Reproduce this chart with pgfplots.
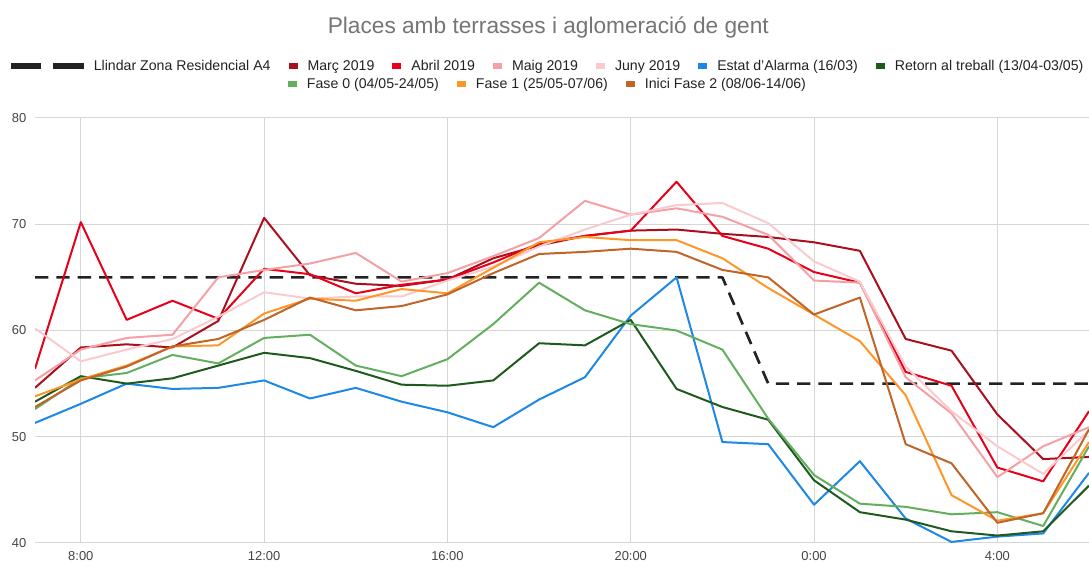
\documentclass[border=0pt]{standalone}
\usepackage{fontspec}
\setmainfont{Liberation Sans}
\usepackage{pgfplots}
\usepackage{pgfplotstable}
\pgfplotsset{compat=1.18}

\definecolor{llindar}{RGB}{34,34,34}
\definecolor{marc}{RGB}{170,15,30}
\definecolor{abril}{RGB}{230,0,25}
\definecolor{maig}{RGB}{244,160,164}
\definecolor{juny}{RGB}{250,202,207}
\definecolor{alarma}{RGB}{30,136,229}
\definecolor{retorn}{RGB}{30,90,30}
\definecolor{fasezero}{RGB}{100,175,95}
\definecolor{faseu}{RGB}{255,150,40}
\definecolor{fasedos}{RGB}{192,100,40}
\definecolor{titol}{RGB}{117,117,117}
\definecolor{etiq}{RGB}{68,68,68}
\definecolor{reixa}{RGB}{214,214,214}

% hores: 24 = 0:00, 28 = 4:00
\pgfplotstableread{
h  llindar marc abril maig juny alarma retorn fase0 fase1 fase2
7  65 54.6 56.4 55.3 60.2 51.3 53.3 52.6 53.8 52.8
8  65 58.4 70.2 58.2 57.1 53.1 55.7 55.5 55.4 55.3
9  65 58.7 61.0 59.3 58.2 55.0 55.0 56.0 56.7 56.6
10 65 58.4 62.8 59.6 59.2 54.5 55.5 57.7 58.5 58.5
11 65 60.9 61.1 65.0 61.3 54.6 56.7 56.9 58.6 59.2
12 65 70.6 65.8 65.7 63.6 55.3 57.9 59.3 61.6 61.0
13 65 65.2 65.3 66.3 63.0 53.6 57.4 59.6 63.0 63.1
14 65 64.4 63.5 67.3 63.2 54.6 56.2 56.7 62.8 61.9
15 65 64.2 64.3 64.6 63.2 53.3 54.9 55.7 63.9 62.3
16 65 64.8 64.8 65.4 64.7 52.3 54.8 57.3 63.5 63.4
17 65 66.8 66.4 67.0 66.0 50.9 55.3 60.6 65.9 65.4
18 65 68.0 68.2 68.7 67.9 53.5 58.8 64.5 68.3 67.2
19 65 68.9 68.9 72.2 69.5 55.6 58.6 61.9 68.8 67.4
20 65 69.4 69.4 70.9 70.9 61.4 61.0 60.6 68.5 67.7
21 65 69.5 74.0 71.5 71.8 65.0 54.5 60.0 68.5 67.4
22 65 69.1 68.9 70.7 72.0 49.5 52.8 58.2 66.8 65.7
23 55 68.8 67.7 69.0 70.1 49.3 51.6 51.7 64.0 65.0
24 55 68.3 65.5 64.7 66.5 43.6 45.9 46.4 61.5 61.5
25 55 67.5 64.5 64.5 64.6 47.7 42.9 43.7 59.0 63.1
26 55 59.2 56.1 55.6 56.6 42.3 42.2 43.4 53.9 49.3
27 55 58.1 54.8 52.2 52.4 40.1 41.1 42.7 44.5 47.5
28 55 52.1 47.1 46.2 49.1 40.6 40.7 42.9 42.1 41.9
29 55 47.9 45.8 49.1 46.5 40.9 41.1 41.6 42.8 42.8
30 55 48.1 52.4 50.9 50.6 46.6 45.4 49.1 49.5 50.7
}\dades

\pgfplotsset{
  capsa/.style={
    at={(0,0)}, anchor=south west, scale only axis,
    width=790.5pt, height=318.75pt,
  },
  llegenda/.style={
    legend style={draw=none, fill=none, inner sep=0pt,
      font=\fontsize{10.6}{12}\selectfont, text=llindar,
      at={(0.487,1)}, anchor=center,
      cells={anchor=west, text height=1.6ex, text depth=0.45ex},
      /tikz/every odd column/.append style={column sep=5.5pt},
      /tikz/every even column/.append style={column sep=11.5pt}},
    legend image code/.code={\fill[##1, draw=none, solid] (0pt,-2pt) rectangle (6.75pt,2pt);},
  },
}

\begin{document}
\begin{tikzpicture}
\useasboundingbox (-26.25pt,-15pt) rectangle (790.5pt,407.25pt);
\begin{axis}[capsa, llegenda,
    xmin=7, xmax=30, ymin=40, ymax=80,
    xtick={8,12,16,20,24,28},
    xticklabels={8:00,12:00,16:00,20:00,0:00,4:00},
    ytick={40,50,60,70,80},
    axis line style={draw=none}, major tick length=0pt,
    tick style={draw=none},
    grid=major, grid style={reixa, line width=0.75pt},
    tick label style={font=\fontsize{9.7}{11}\selectfont, text=etiq},
    /pgf/number format/assume math mode=true,
    yticklabel style={xshift=-3pt},
    xticklabel style={yshift=-3pt},
    title={Places amb terrasses i aglomeració de gent},
    title style={at={(0.487,1)}, anchor=center, yshift=61.5pt,
      font=\fontsize{17}{20}\selectfont, text=titol},
    legend columns=7,
    legend style={yshift=39pt},
    every axis plot/.append style={line width=1.5pt, line join=round, mark=none},
  ]
  \addplot[llindar, line width=2pt, dash pattern=on 10pt off 6pt,
    legend image code/.code={
      \fill[llindar, draw=none, solid] (0pt,-2pt) rectangle (23pt,2pt);
      \fill[llindar, draw=none, solid] (32pt,-2pt) rectangle (55pt,2pt);}]
    table[x=h, y=llindar] {\dades};
  \addplot[marc] table[x=h, y=marc] {\dades};
  \addplot[abril] table[x=h, y=abril] {\dades};
  \addplot[maig] table[x=h, y=maig] {\dades};
  \addplot[juny] table[x=h, y=juny] {\dades};
  \addplot[alarma] table[x=h, y=alarma] {\dades};
  \addplot[retorn] table[x=h, y=retorn] {\dades};
  \addplot[fasezero] table[x=h, y=fase0] {\dades};
  \addplot[faseu] table[x=h, y=fase1] {\dades};
  \addplot[fasedos] table[x=h, y=fase2] {\dades};
  \legend{Llindar Zona Residencial A4, Març 2019, Abril 2019, Maig 2019,
    Juny 2019, Estat d'Alarma (16/03), Retorn al treball (13/04-03/05)}
\end{axis}
\begin{axis}[capsa, llegenda, hide axis,
    xmin=0, xmax=1, ymin=0, ymax=1,
    legend columns=3,
    legend style={yshift=25.5pt},
  ]
  \addlegendimage{fasezero}
  \addlegendimage{faseu}
  \addlegendimage{fasedos}
  \legend{Fase 0 (04/05-24/05), Fase 1 (25/05-07/06), Inici Fase 2 (08/06-14/06)}
\end{axis}
\end{tikzpicture}
\end{document}
